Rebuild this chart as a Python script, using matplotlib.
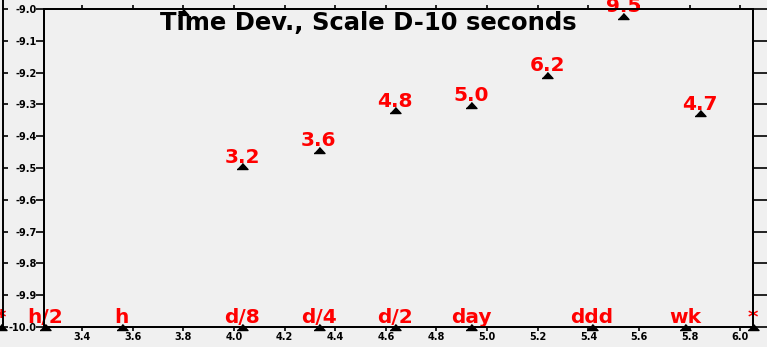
import numpy as np
import matplotlib
matplotlib.use("Agg")
import matplotlib.pyplot as plt
import matplotlib.transforms as mtransforms

# Time deviation, in units of 1e-10 s, at averaging times tau (s)
tau_s = [10800, 21600, 43200, 86400, 172800, 345600, 691200]
tdev_e10 = [3.2, 3.6, 4.8, 5.0, 6.2, 9.5, 4.7]
tdev_labels = ["3.2", "3.6", "4.8", "5.0", "6.2", "9.5", "4.7"]

# Point whose value lies above the plotted range (drawn at the top edge)
offscale_tau = [6300]

# Named averaging times marked along the bottom axis
mark_tau = [1800, 3600, 10800, 21600, 43200, 86400, 259200, 604800]
mark_names = ["h/2", "h", "d/8", "d/4", "d/2", "day", "ddd", "wk"]

# Ends of the tau range
end_tau = [1200, 1.12e6]
end_names = ["*", "*"]

x_ticks = [3.4, 3.6, 3.8, 4.0, 4.2, 4.4, 4.6, 4.8, 5.0, 5.2, 5.4, 5.6, 5.8, 6.0]
x_tick_labels = ["3.4", "3.6", "3.8", "4.0", "4.2", "4.4", "4.6", "4.8",
                 "5.0", "5.2", "5.4", "5.6", "5.8", "6.0"]
y_ticks = [-10.0, -9.9, -9.8, -9.7, -9.6, -9.5, -9.4, -9.3, -9.2, -9.1, -9.0]
y_tick_labels = ["-10.0", "-9.9", "-9.8", "-9.7", "-9.6", "-9.5", "-9.4",
                 "-9.3", "-9.2", "-9.1", "-9.0"]

x_range = (3.25, 6.05)
y_range = (-10.0, -9.0)

BG = "#f0f0f0"
RED = "#ff0000"
FONT = "DejaVu Sans"

W, H, DPI = 767, 347, 100
fig = plt.figure(figsize=(W / DPI, H / DPI), dpi=DPI, facecolor=BG)

ax_left, ax_right, ax_top, ax_bot = 44, 753, 9, 327
ax = fig.add_axes([ax_left / W, (H - ax_bot) / H,
                   (ax_right - ax_left) / W, (ax_bot - ax_top) / H])
ax.set_facecolor(BG)
ax.set_xlim(*x_range)
ax.set_ylim(*y_range)
for s in ax.spines.values():
    s.set_linewidth(1.4)
    s.set_color("black")

ax.set_xticks(x_ticks)
ax.set_xticklabels(x_tick_labels)
ax.set_yticks(y_ticks)
ax.set_yticklabels(y_tick_labels)
ax.tick_params(axis="x", which="major", direction="out", length=3.2, width=1.2,
               pad=0.6, top=True, bottom=True, labelsize=7)
ax.tick_params(axis="y", which="major", direction="out", length=5.8, width=1.2,
               pad=-0.7, left=True, right=False, labelsize=7)
for lab in ax.get_xticklabels() + ax.get_yticklabels():
    lab.set_fontweight("bold")
    lab.set_family(FONT)

# Right axis: long outward ticks, no labels
axr = ax.twinx()
axr.set_ylim(*y_range)
axr.set_yticks(y_ticks)
axr.tick_params(axis="y", direction="out", length=10, width=1.2,
                labelright=False)
for s in axr.spines.values():
    s.set_linewidth(1.4)

# Outer frame line on the far left, running to the top edge, with inward ticks
span = y_range[1] - y_range[0]
frame_top = y_range[1] + span * ax_top / (ax_bot - ax_top)
frame_ax = fig.add_axes([2.5 / W, (H - ax_bot) / H, 1e-4, ax_bot / H])
frame_ax.patch.set_visible(False)
frame_ax.set_ylim(y_range[0], frame_top)
frame_ax.set_yticks(y_ticks)
frame_ax.set_xticks([])
frame_ax.tick_params(axis="y", direction="in", length=3.6, width=1.2,
                     labelleft=False)
for name, s in frame_ax.spines.items():
    s.set_visible(name == "left")
frame_ax.spines["left"].set_linewidth(1.4)

# Triangle marker, wider than tall, centred on the point
tri = [(-1, -0.55), (1, -0.55), (0, 0.55)]
# Triangle hanging below its apex (for off-scale points)
tri_hang = [(-1, -1.1), (1, -1.1), (0, 0)]

# Data points and their value labels
x = np.log10(tau_s)
y = np.log10(np.array(tdev_e10) * 1e-10)
ax.plot(x, y, linestyle="none", marker=tri, markersize=7.9,
        color="black", clip_on=False, zorder=4)
for xi, yi, lab in zip(x, y, tdev_labels):
    ax.annotate(lab, (xi, yi), xytext=(0, 2.6), textcoords="offset points",
                ha="center", va="baseline", color=RED, fontsize=14.5,
                fontweight="bold", family=FONT, annotation_clip=False)

# Off-scale point at the upper edge
edge_tr = mtransforms.blended_transform_factory(ax.transData, ax.transAxes)
ax.plot(np.log10(offscale_tau), [1.0] * len(offscale_tau), linestyle="none",
        marker=tri_hang, markersize=8.5, color="black",
        transform=edge_tr, clip_on=False, zorder=4)

# Named averaging times along the bottom
mx = np.log10(mark_tau)
ax.plot(mx, [0.0] * len(mx), linestyle="none", marker=tri, markersize=7.9,
        color="black", transform=edge_tr, clip_on=False, zorder=4)
for xi, lab in zip(mx, mark_names):
    ax.annotate(lab, (xi, 0.0), xycoords=edge_tr, xytext=(0, 3.0),
                textcoords="offset points", ha="center", va="baseline",
                color=RED, fontsize=14.5, fontweight="bold", family=FONT,
                annotation_clip=False)

ex = np.log10(end_tau)
ax.plot(ex, [0.0] * len(ex), linestyle="none", marker=tri, markersize=7.9,
        color="black", transform=edge_tr, clip_on=False, zorder=4)
for xi, lab in zip(ex, end_names):
    ax.annotate(lab, (xi, 0.0), xycoords=edge_tr, xytext=(0, 3.0),
                textcoords="offset points", ha="center", va="baseline",
                color=RED, fontsize=14.5, fontweight="bold", family=FONT,
                annotation_clip=False)

ax.text(0.457, 0.934, "Time Dev., Scale D-10 seconds", transform=ax.transAxes,
        ha="center", va="baseline", fontsize=17.5, fontweight="bold",
        family=FONT, color="black")

fig.savefig("out.png", dpi=DPI, facecolor=BG)
